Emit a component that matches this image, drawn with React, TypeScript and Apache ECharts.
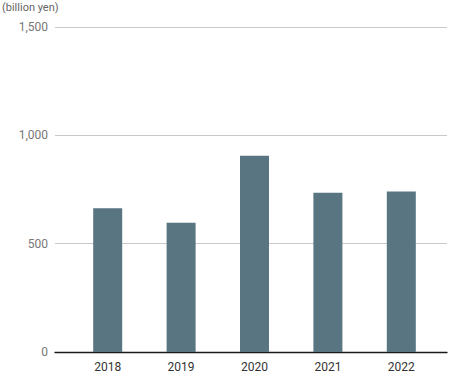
import React, { useEffect, useRef } from "react";
import * as echarts from "echarts";

const categories = ["2018", "2019", "2020", "2021", "2022"];
const values = [664, 597, 906, 735, 741];
const yMax = 1500;
const yInterval = 500;
const unitLabel = "(billion yen)";

export default function App() {
  const ref = useRef<HTMLDivElement>(null);
  useEffect(() => {
    if (!ref.current) return;
    const chart = echarts.init(ref.current, undefined, { renderer: "svg" });
    const font = "Roboto, 'Noto Sans', sans-serif";
    chart.setOption({
      animation: false,
      backgroundColor: "#ffffff",
      graphic: [
        {
          type: "text",
          left: 2,
          top: 2,
          style: { text: unitLabel, fontSize: 11, fill: "#666", fontFamily: font },
        },
      ],
      grid: [
        { left: 55, right: 3, top: 27, bottom: 28 },
        { left: 71, right: 12, top: 27, bottom: 28 },
      ],
      xAxis: [
        {
          type: "value",
          gridIndex: 0,
          min: 0,
          max: 1,
          axisLine: { show: true, onZero: false, lineStyle: { color: "#1a1a1a", width: 1.3 } },
          axisTick: { show: false },
          axisLabel: { show: false },
          splitLine: { show: false },
        },
        {
          type: "category",
          gridIndex: 1,
          data: categories,
          axisLine: { show: false },
          axisTick: { show: false },
          axisLabel: { color: "#333", fontSize: 12, margin: 9, fontFamily: font },
        },
      ],
      yAxis: [
        {
          type: "value",
          gridIndex: 0,
          min: 0,
          max: yMax,
          interval: yInterval,
          axisLine: { show: false },
          axisTick: { show: false },
          axisLabel: {
            color: "#777",
            fontSize: 12,
            margin: 7,
            fontFamily: font,
            formatter: (v: number) => v.toLocaleString("en-US"),
          },
          splitLine: { lineStyle: { color: "#c8c8c8", width: 1 } },
        },
        {
          type: "value",
          gridIndex: 1,
          min: 0,
          max: yMax,
          interval: yInterval,
          show: false,
          splitLine: { show: false },
        },
      ],
      series: [
        {
          type: "bar",
          xAxisIndex: 1,
          yAxisIndex: 1,
          data: values,
          barWidth: 29,
          itemStyle: { color: "#587581" },
        },
      ],
    });
    return () => chart.dispose();
  }, []);
  return (
    <div
      ref={ref}
      style={{ position: "absolute", left: 0, top: 0, width: 450, height: 380 }}
    />
  );
}
